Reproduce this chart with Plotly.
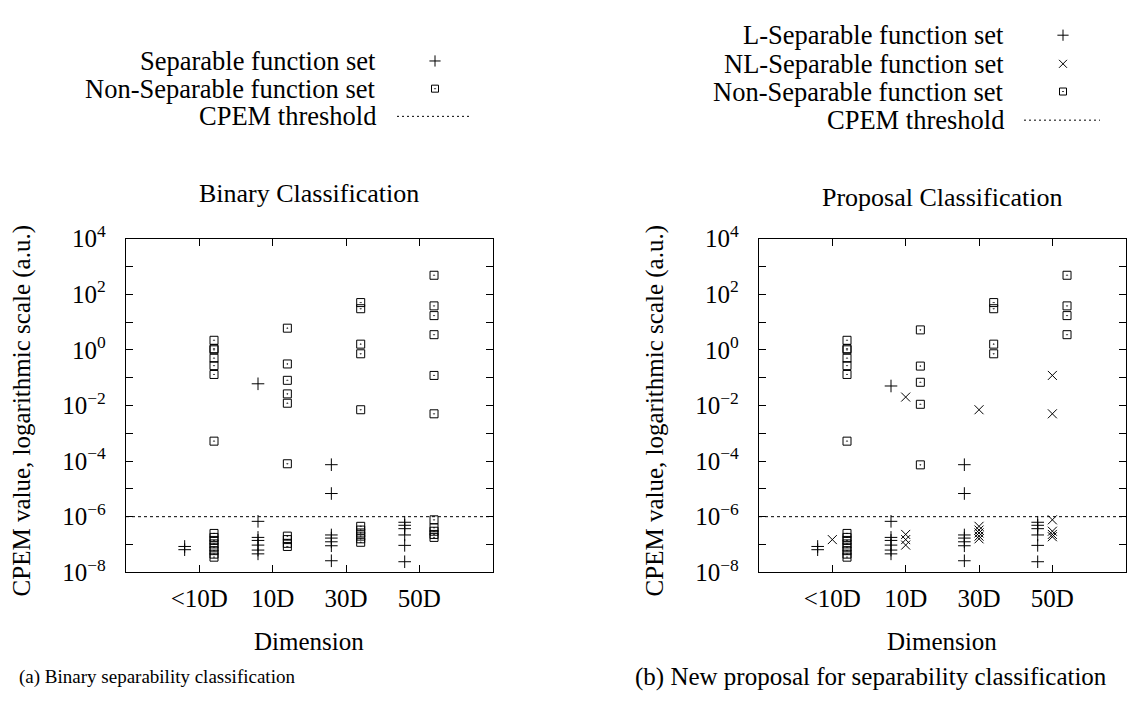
import plotly.graph_objects as go

W, H = 1128, 709

categories = ["<10D", "10D", "30D", "50D"]
cat_pos = [1, 2, 3, 4]
threshold = 1e-6

# ---- (a) Binary classification ----
a_sep = {
    "<10D": [8.5e-8, 6.5e-8],
    "10D": [0.06, 6.8e-7, 1.8e-7, 1.4e-7, 9.5e-8, 6.3e-8, 4.6e-8],
    "30D": [7.4e-5, 6.8e-6, 2.2e-7, 1.7e-7, 1.25e-7, 9e-8, 2.6e-8],
    "50D": [6.3e-7, 4.9e-7, 3.7e-7, 2.2e-7, 9.3e-8, 2.4e-8],
}
a_nonsep = {
    "<10D": [2.2, 1.1, 1.0, 0.5, 0.27, 0.13, 5.2e-4,
             2.5e-7, 1.8e-7, 1.4e-7, 1.05e-7, 8e-8, 6e-8, 4.5e-8, 3.5e-8],
    "10D": [6.0, 0.31, 0.08, 0.026, 0.012, 8e-5, 2e-7, 1.5e-7, 1.1e-7, 8.5e-8],
    "30D": [50, 30, 1.6, 0.72, 0.007, 4.5e-7, 3.3e-7, 2.6e-7, 2e-7, 1.6e-7, 1.2e-7],
    "50D": [480, 38, 17, 3.5, 0.12, 0.005, 7.7e-7, 4e-7, 3e-7, 2.3e-7, 1.8e-7],
}

# ---- (b) Proposal classification ----
b_lsep = {
    "<10D": [8.5e-8, 6.5e-8],
    "10D": [0.05, 6.8e-7, 1.8e-7, 1.4e-7, 9.5e-8, 6.3e-8, 4.6e-8],
    "30D": [7.4e-5, 6.8e-6, 2.2e-7, 1.7e-7, 1.25e-7, 9e-8, 2.6e-8],
    "50D": [6.3e-7, 4.9e-7, 3.7e-7, 2.2e-7, 9.3e-8, 2.4e-8],
}
b_nlsep = {
    "<10D": [1.5e-7],
    "10D": [0.02, 2.3e-7, 1.5e-7, 9.5e-8],
    "30D": [0.007, 4.5e-7, 3.3e-7, 2.6e-7, 2e-7, 1.6e-7],
    "50D": [0.12, 0.005, 7.7e-7, 3e-7, 2.3e-7, 1.9e-7],
}
b_nonsep = {
    "<10D": [2.2, 1.1, 1.0, 0.5, 0.27, 0.13, 5.2e-4,
             2.5e-7, 1.8e-7, 1.4e-7, 1.05e-7, 8e-8, 6e-8, 4.5e-8, 3.5e-8],
    "10D": [5.2, 0.26, 0.068, 0.011, 7.3e-5],
    "30D": [50, 30, 1.6, 0.72],
    "50D": [480, 38, 17, 3.5],
}

FONT = "Liberation Serif"
FS = 25

def px(x):
    return x / W

def py(y):
    return 1 - y / H

fig = go.Figure()

PLUS = dict(symbol="cross-thin", size=9, line=dict(width=1, color="black"), color="black")
CROSS = dict(symbol="x-thin", size=9, line=dict(width=1, color="black"), color="black")
SQUARE = dict(symbol="square-open-dot", size=8, line=dict(width=1, color="black"), color="black")

def add_series(data, offset, marker, xa, ya):
    xs, ys = [], []
    for c, p in zip(categories, cat_pos):
        for v in data.get(c, []):
            xs.append(p + offset)
            ys.append(v)
    fig.add_trace(go.Scatter(x=xs, y=ys, mode="markers", marker=marker,
                             xaxis=xa, yaxis=ya, showlegend=False, hoverinfo="skip"))

add_series(a_sep, -0.2, PLUS, "x", "y")
add_series(a_nonsep, 0.2, SQUARE, "x", "y")
add_series(b_lsep, -0.2, PLUS, "x2", "y2")
add_series(b_nlsep, 0.0, CROSS, "x2", "y2")
add_series(b_nonsep, 0.2, SQUARE, "x2", "y2")

# CPEM threshold lines
for xr, yr in (("x", "y"), ("x2", "y2")):
    fig.add_shape(type="line", xref=xr, yref=yr, x0=0, x1=5, y0=threshold, y1=threshold,
                  line=dict(color="black", width=1, dash="3px,3px"))

exps = list(range(-8, 5))
ytickvals = [10.0 ** e for e in exps]
yticktext = [("10<sup>%s</sup>" % (str(e).replace("-", "\u2212"))) if e % 2 == 0 else "" for e in exps]

ydom = [py(580.5), py(231)]
xdom_a = [px(126), px(492.7)]
xdom_b = [px(759), px(1125.7)]

axis_common = dict(showline=True, linecolor="black", linewidth=1.3, mirror="ticks",
                   ticks="inside", ticklen=7, tickwidth=1, tickcolor="black",
                   showgrid=False, zeroline=False,
                   tickfont=dict(family=FONT, size=FS, color="black"))

xa = dict(axis_common, range=[0, 5], tickvals=cat_pos, ticktext=categories, ticklabelstandoff=4)
ya = dict(axis_common, type="log", range=[-8, 4], tickvals=ytickvals, ticktext=yticktext,
          ticklabelstandoff=14)

fig.update_layout(
    width=W, height=H, margin=dict(l=0, r=0, t=0, b=0),
    paper_bgcolor="white", plot_bgcolor="rgba(0,0,0,0)",
    font=dict(family=FONT, size=FS, color="black"),
    xaxis=dict(xa, domain=xdom_a, anchor="y"),
    yaxis=dict(ya, domain=ydom, anchor="x"),
    xaxis2=dict(xa, domain=xdom_b, anchor="y2"),
    yaxis2=dict(ya, domain=ydom, anchor="x2"),
    xaxis3=dict(domain=[0, 1], range=[0, W], visible=False, anchor="y3", fixedrange=True),
    yaxis3=dict(domain=[0, 1], range=[H, 0], visible=False, anchor="x3", fixedrange=True),
)

def ann(text, x, y, xanchor="center", yanchor="middle", angle=0, size=FS):
    fig.add_annotation(text=text, x=px(x), y=py(y), xref="paper", yref="paper",
                       xanchor=xanchor, yanchor=yanchor, showarrow=False, textangle=angle,
                       borderpad=0, font=dict(family=FONT, size=size, color="black"))

# subplot titles
ann("Binary Classification", 309, 184, size=26)
ann("Proposal Classification", 942, 188, size=26)
# axis titles
ann("Dimension", 309, 653)
ann("Dimension", 942, 653)
ann("CPEM value, logarithmic scale (a.u.)", 22, 412, angle=-90)
ann("CPEM value, logarithmic scale (a.u.)", 655, 412, angle=-90)
# captions
ann("(a) Binary separability classification", 157, 690, size=19)
ann("(b) New proposal for separability classification", 871, 690, size=25)

# legends (text right-aligned, symbol to the right)
LS = 26.5
leg_a = [("Separable function set", 45, PLUS), ("Non-Separable function set", 74, SQUARE),
         ("CPEM threshold", 103, None)]
for t, y, m in leg_a:
    ann(t, 377, y, xanchor="right", size=LS)
    if m is not None:
        fig.add_trace(go.Scatter(x=[435], y=[y], mode="markers", marker=dict(m, size=m["size"] - 1),
                                 xaxis="x3", yaxis="y3", showlegend=False, hoverinfo="skip"))
    else:
        fig.add_shape(type="line", xref="paper", yref="paper", x0=px(397), x1=px(472),
                      y0=py(y), y1=py(y), line=dict(color="black", width=1, dash="2px,3px"))

leg_b = [("L-Separable function set", 18, PLUS), ("NL-Separable function set", 48, CROSS),
         ("Non-Separable function set", 77, SQUARE), ("CPEM threshold", 107, None)]
for t, y, m in leg_b:
    ann(t, 1005, y, xanchor="right", size=LS)
    if m is not None:
        fig.add_trace(go.Scatter(x=[1063], y=[y], mode="markers", marker=dict(m, size=m["size"] - 1),
                                 xaxis="x3", yaxis="y3", showlegend=False, hoverinfo="skip"))
    else:
        fig.add_shape(type="line", xref="paper", yref="paper", x0=px(1024), x1=px(1100),
                      y0=py(y), y1=py(y), line=dict(color="black", width=1, dash="2px,3px"))

POST = ("var gd=document.getElementById('{plot_id}');"
        "document.documentElement.style.margin='0';document.documentElement.style.padding='0';"
        "document.documentElement.style.overflow='hidden';"
        "document.body.style.margin='0';document.body.style.padding='0';"
        "document.body.style.overflow='hidden';"
        "gd.style.position='fixed';gd.style.top='0px';gd.style.left='0px';")

fig.write_html("out.html", config={"displayModeBar": False}, post_script=POST)
